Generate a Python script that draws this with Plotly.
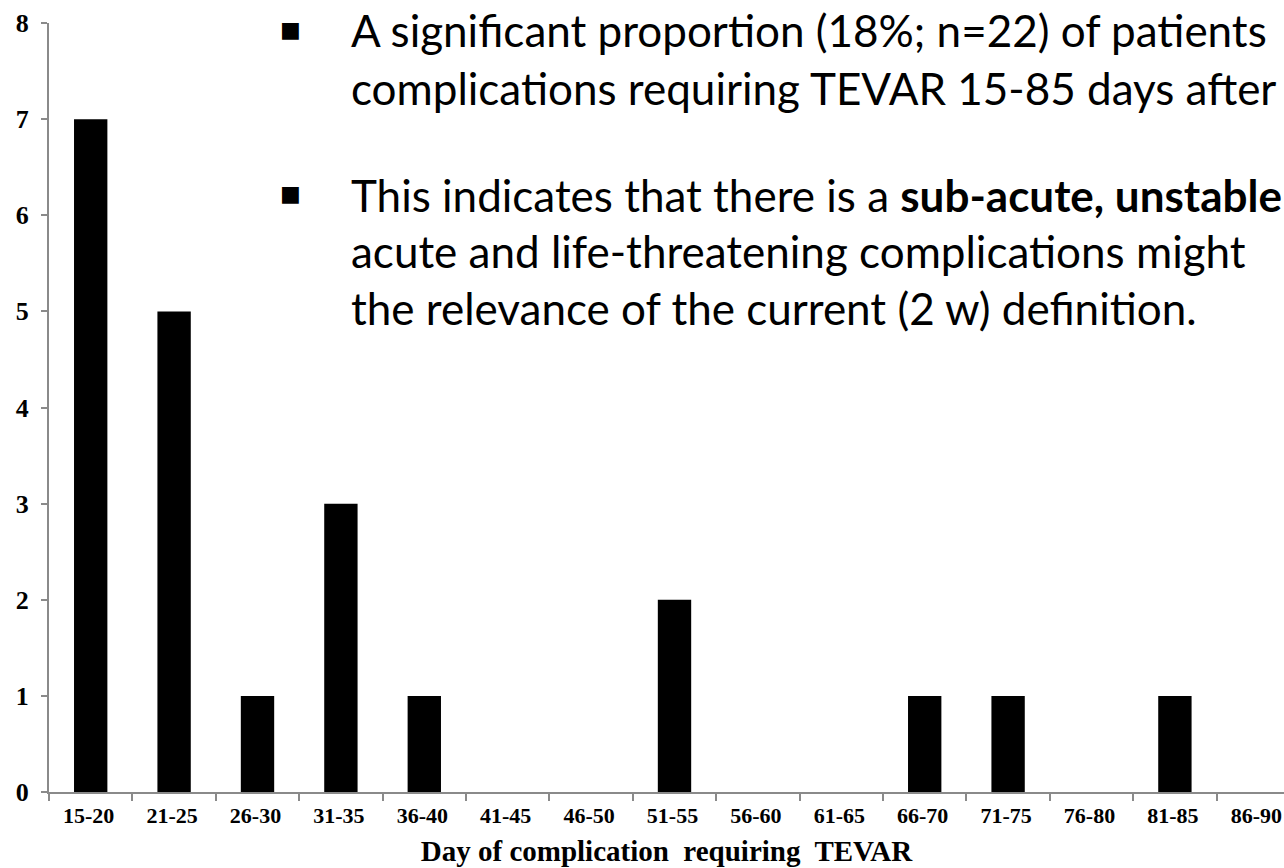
import plotly.graph_objects as go

# ---- data ----
categories = ["15-20", "21-25", "26-30", "31-35", "36-40", "41-45", "46-50", "51-55",
              "56-60", "61-65", "66-70", "71-75", "76-80", "81-85", "86-90"]
counts = [7, 5, 1, 3, 1, 0, 0, 2, 0, 0, 1, 1, 0, 1, 0]
y_ticks = [0, 1, 2, 3, 4, 5, 6, 7, 8]
x_title = "Day of complication\u00a0 requiring\u00a0 TEVAR"

bullet_lines = [
    "A significant proportion (18%; n=22) of patients",
    "complications requiring TEVAR 15-85 days after",
    "This indicates that there is a <b>sub-acute, unstable</b>",
    "acute and life-threatening complications might",
    "the relevance of the current (2 w) definition.",
]

W, H = 1284, 868
L, R, T, B = 49, 0, 23, 76
PW, PH = W - L - R, H - T - B
CAT_W = 83.4


def px(x):
    return (x - L) / PW


def py(y):
    return (H - B - y) / PH


fig = go.Figure()
fig.add_trace(go.Bar(x=categories, y=counts, marker=dict(color="black", line=dict(width=0)),
                     showlegend=False))

fig.update_layout(
    width=W, height=H,
    margin=dict(l=L, r=R, t=T, b=B, pad=0),
    paper_bgcolor="white", plot_bgcolor="white",
    bargap=0.6,
    xaxis=dict(
        type="category", range=[-0.5, -0.5 + PW / CAT_W],
        showline=True, linecolor="#8a8a8a", linewidth=2,
        ticks="outside", tickson="boundaries", ticklen=7, tickwidth=2, tickcolor="#8a8a8a",
        showgrid=False, zeroline=False,
        ticklabelshift=-2, ticklabelstandoff=3,
        tickfont=dict(family="Liberation Serif", size=22, color="black", weight="bold"),
        title=dict(text=x_title, standoff=13,
                   font=dict(family="Liberation Serif", size=29, color="black", weight="bold")),
    ),
    yaxis=dict(
        range=[0, 8], tickvals=y_ticks,
        showline=True, linecolor="#8a8a8a", linewidth=2,
        ticks="outside", ticklen=6, tickwidth=2, tickcolor="#8a8a8a",
        showgrid=False, zeroline=False,
        tickfont=dict(family="Liberation Serif", size=26, color="black", weight="bold"),
        ticklabelstandoff=7,
    ),
)

# bullets
for yc in (30, 193):
    fig.add_annotation(xref="paper", yref="paper", x=px(290), y=py(yc), text="■",
                       showarrow=False, xanchor="center", yanchor="middle",
                       font=dict(family="DejaVu Sans", size=22, color="black"))

# text lines (centre y of each line box)
line_centers = [30, 88, 195, 251, 308]
for txt, yc in zip(bullet_lines, line_centers):
    fig.add_annotation(xref="paper", yref="paper", x=px(349), y=py(yc), text=txt,
                       showarrow=False, xanchor="left", yanchor="middle", align="left",
                       font=dict(family="Lato", size=44, color="black"))

fig.write_html("out.html", config={"displayModeBar": False},
               post_script="document.body.style.margin='0';")
